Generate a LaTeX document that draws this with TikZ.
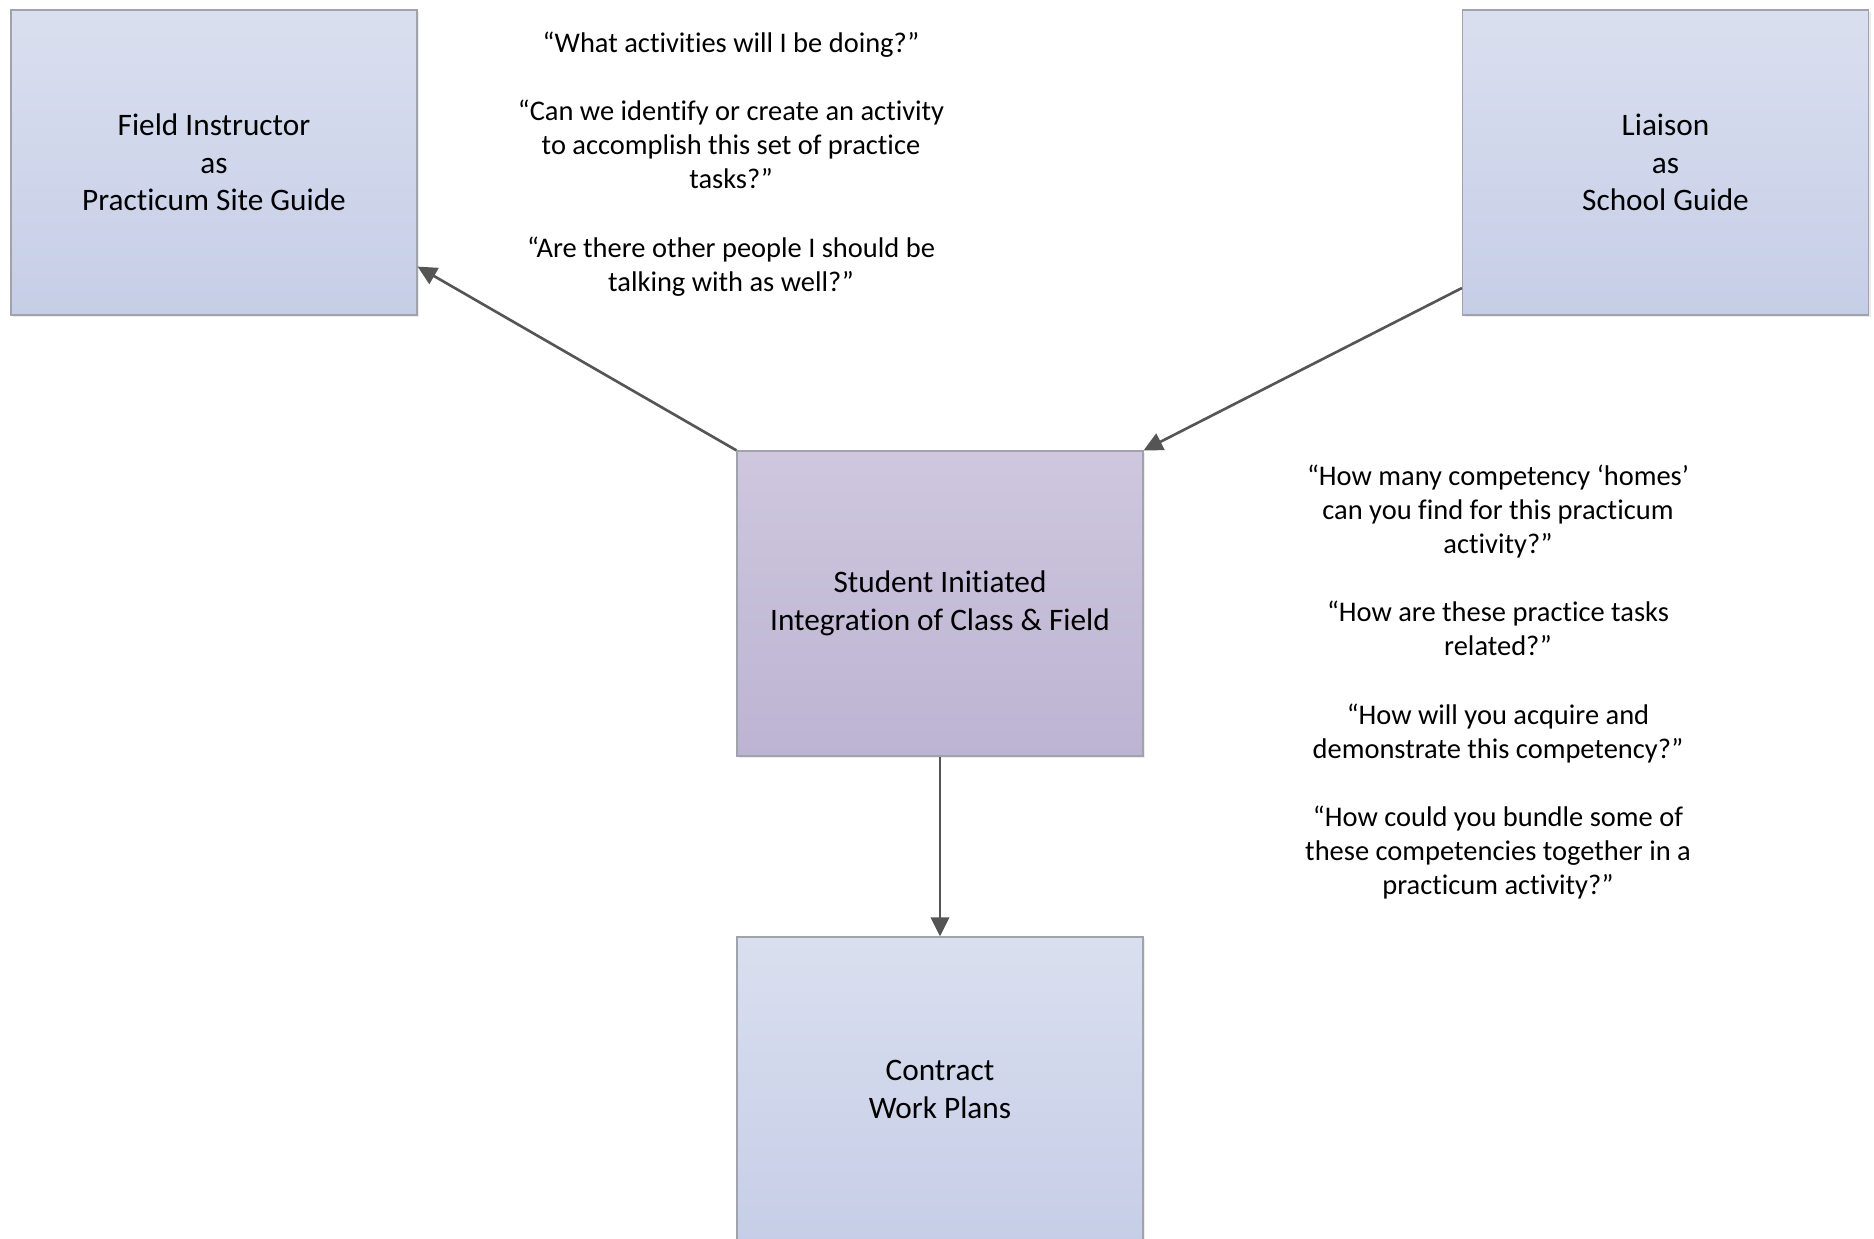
\documentclass[tikz,border=0pt]{standalone}
\usepackage{fontspec}
\setmainfont{Carlito}[Ligatures=NoCommon]
\usepackage{tikz}
\usetikzlibrary{arrows.meta, positioning, calc, shadows}
\definecolor{boxblueTop}{RGB}{218, 223, 239}
\definecolor{boxblueBot}{RGB}{198, 206, 231}
\definecolor{boxlilacTop}{RGB}{206, 199, 222}
\definecolor{boxlilacBot}{RGB}{188, 180, 210}
\definecolor{boxedge}{RGB}{160, 163, 172}
\definecolor{arrowgray}{RGB}{85, 85, 85}
\tikzset{
  guidebox/.style={rectangle, draw=boxedge, line width=0.35pt, top color=boxblueTop, bottom color=boxblueBot, minimum width=4.06cm, minimum height=3.05cm, align=center, font=\fontsize{8.9}{10.7}\selectfont, drop shadow={shadow xshift=0.6pt, shadow yshift=-0.6pt, opacity=0.15}},
  studentbox/.style={guidebox, top color=boxlilacTop, bottom color=boxlilacBot},
  question/.style={align=center, font=\fontsize{8.1}{9.7}\selectfont, inner sep=0pt},
  flow/.style={draw=arrowgray, line width=0.75pt, -{Triangle[length=5.4pt, width=5.2pt]}}
}

\begin{document}
\begin{tikzpicture}
    \useasboundingbox (0, 0) rectangle (18.74, 12.39);
    % Boxes
    \node[guidebox] (field) at (2.14, 10.765) {Field Instructor\\as\\Practicum Site Guide};
    \node[guidebox] (liaison) at (16.655, 10.765) {Liaison\\as\\School Guide};
    \node[studentbox] (student) at (9.40, 6.355) {Student Initiated\\Integration of Class \& Field};
    \node[guidebox] (plans) at (9.40, 1.495) {Contract\\Work Plans};
    % Guiding questions
    \node[question] (fieldq) at (7.31, 10.75) {``What activities will I be doing?''\\[9.7pt]
        ``Can we identify or create an activity\\to accomplish this set of practice\\tasks?''\\[9.7pt]
        ``Are there other people I should be\\talking with as well?''};
    \node[question] (liaisonq) at (14.98, 5.57) {``How many competency `homes'\\can you find for this practicum\\activity?''\\[9.7pt]
        ``How are these practice tasks\\related?''\\[9.7pt]
        ``How will you acquire and\\demonstrate this competency?''\\[9.7pt]
        ``How could you bundle some of\\these competencies together in a\\practicum activity?''};
    % Connectors
    \draw[flow] (student.north west) -- ($(field.south east)!0.16!(field.north east)$);
    \draw[flow] ($(liaison.south west)!0.09!(liaison.north west)$) -- (student.north east);
    \draw[flow] (student.south) -- (plans.north);
\end{tikzpicture}
\end{document}
